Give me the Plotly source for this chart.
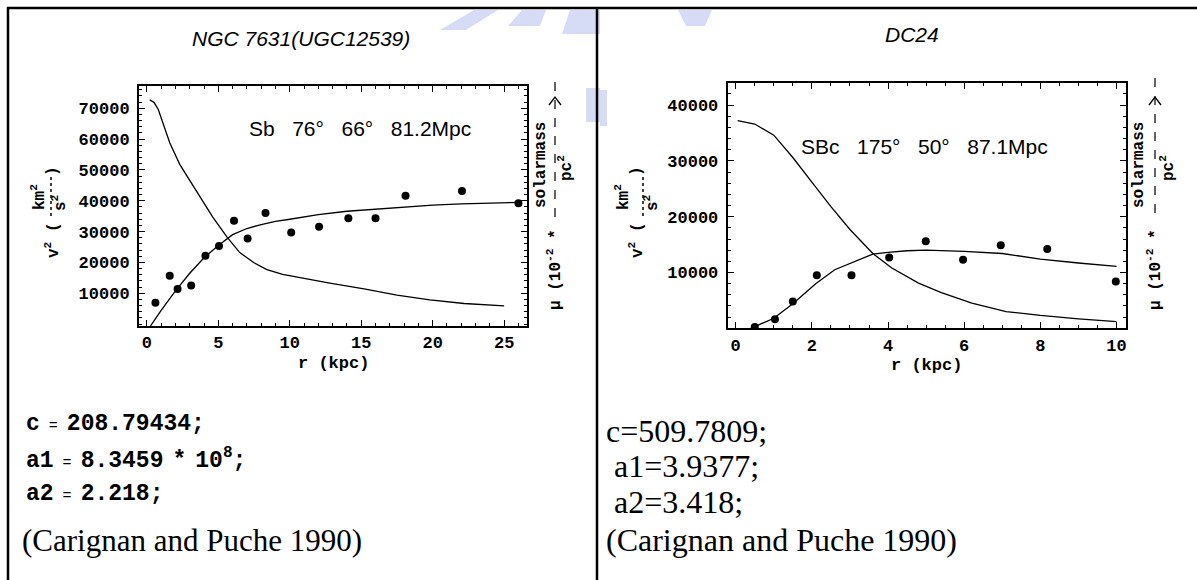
import plotly.graph_objects as go

W, H = 1197, 580

# ---------------- data : NGC 7631 (left panel) ----------------
ngc_r_obs = [0.6, 1.6, 2.15, 3.1, 4.1, 5.05, 6.1, 7.05, 8.3, 10.1, 12.05, 14.1, 16.0, 18.1, 22.05, 26.0]
ngc_v2_obs = [6900, 15700, 11400, 12500, 22200, 25300, 33500, 27800, 36000, 29700, 31600, 34300, 34300, 41600, 43200, 39200]
ngc_r_fit = [0.25, 1, 2, 3, 4, 5, 6, 7, 8, 9, 10, 12, 14, 16, 18, 20, 22, 24, 26]
ngc_v2_fit = [-600, 4500, 10800, 16500, 21500, 25500, 29000, 31000, 32300, 33300, 34000, 35500, 36600, 37300, 38000, 38600, 39000, 39300, 39500]
ngc_r_mu = [0.2, 0.5, 0.8, 1.1, 1.6, 2.3, 3.0, 3.7, 4.6, 5.6, 6.5, 7.5, 8.4, 9.5, 10.7, 12.8, 15.2, 17.5, 19.8, 22.2, 25.0]
ngc_mu = [72700, 71900, 69600, 65600, 58800, 51800, 46500, 41200, 34800, 28300, 23200, 19900, 17700, 16100, 15000, 13300, 11400, 9400, 7900, 6700, 5900]
ngc_xticks = [0, 5, 10, 15, 20, 25]
ngc_yticks = [10000, 20000, 30000, 40000, 50000, 60000, 70000]

# ---------------- data : DC24 (right panel) ----------------
dc_r_obs = [0.5, 1.03, 1.5, 2.13, 3.04, 4.03, 4.99, 5.97, 6.96, 8.18, 9.98]
dc_v2_obs = [250, 1600, 4800, 9500, 9500, 12700, 15600, 12300, 14900, 14200, 8400]
dc_r_fit = [0.4, 1.0, 1.5, 2.1, 2.6, 3.1, 3.6, 4.0, 4.5, 5.0, 6.0, 7.0, 8.0, 9.0, 10.0]
dc_v2_fit = [0, 1800, 4400, 8000, 10500, 11900, 13300, 13600, 13900, 14000, 13800, 13400, 12400, 11700, 11100]
dc_r_mu = [0.05, 0.5, 1.0, 1.5, 2.0, 2.5, 3.0, 3.6, 4.1, 4.8, 5.4, 6.2, 7.1, 8.0, 9.0, 10.0]
dc_mu = [37200, 36600, 34600, 30600, 26200, 21800, 17700, 13400, 10800, 8100, 6400, 4500, 3000, 2300, 1700, 1200]
dc_xticks = [0, 2, 4, 6, 8, 10]
dc_yticks = [10000, 20000, 30000, 40000]

MONO = "Liberation Mono"
SANS = "Liberation Sans"
SERIF = "Liberation Serif"


def px(x):
    return x / W


def py(y):
    return 1 - y / H


fig = go.Figure()

line_style = dict(color="black", width=1.3)
mark_style = dict(color="black", size=8)
fig.add_trace(go.Scatter(x=ngc_r_mu, y=ngc_mu, mode="lines", line=line_style, xaxis="x", yaxis="y", showlegend=False))
fig.add_trace(go.Scatter(x=ngc_r_fit, y=ngc_v2_fit, mode="lines", line=line_style, xaxis="x", yaxis="y", showlegend=False))
fig.add_trace(go.Scatter(x=ngc_r_obs, y=ngc_v2_obs, mode="markers", marker=mark_style, xaxis="x", yaxis="y", showlegend=False))
fig.add_trace(go.Scatter(x=dc_r_mu, y=dc_mu, mode="lines", line=line_style, xaxis="x2", yaxis="y2", showlegend=False))
fig.add_trace(go.Scatter(x=dc_r_fit, y=dc_v2_fit, mode="lines", line=line_style, xaxis="x2", yaxis="y2", showlegend=False))
fig.add_trace(go.Scatter(x=dc_r_obs, y=dc_v2_obs, mode="markers", marker=mark_style, xaxis="x2", yaxis="y2", showlegend=False))

tickfont = dict(family=MONO, size=17, color="black", weight="bold")


def axis_style(domain, rng, tickvals, minor_dtick, anchor, standoff):
    return dict(domain=domain, range=rng, anchor=anchor, tickmode="array", tickvals=tickvals,
                ticktext=[str(v) for v in tickvals], ticks="inside", ticklen=6, tickwidth=1.2,
                tickcolor="black", showline=True, linecolor="black", linewidth=2, mirror="allticks",
                showgrid=False, zeroline=False, tickfont=tickfont, ticklabelstandoff=standoff,
                minor=dict(ticks="inside", ticklen=3, tickwidth=1, tickcolor="black",
                           tickmode="linear", tick0=0, dtick=minor_dtick, showgrid=False))


fig.update_layout(
    width=W, height=H, margin=dict(l=0, r=0, t=0, b=0),
    paper_bgcolor="white", plot_bgcolor="white",
    xaxis=axis_style([139 / W, 527 / W], [-0.55, 26.6], ngc_xticks, 1, "y", 0),
    yaxis=axis_style([1 - 326 / H, 1 - 86 / H], [-600, 77200], ngc_yticks, 2000, "x", 4),
    xaxis2=axis_style([727.7 / W, 1125.7 / W], [-0.21, 10.24], dc_xticks, 0.5, "y2", 0),
    yaxis2=axis_style([1 - 328.3 / H, 1 - 83.3 / H], [0, 43900], dc_yticks, 2000, "x2", 4),
)

shapes = []
# faint watermark behind the pictures
blue = "rgba(180,192,238,0.55)"
wm = [
    [(440, 30), (474, 10), (498, 10), (466, 30)],
    [(508, 26), (522, 10), (546, 10), (540, 26)],
    [(562, 34), (570, 10), (600, 10), (600, 34)],
    [(586, 88), (600, 88), (600, 122), (586, 122)],
    [(600, 90), (607, 90), (607, 126), (600, 126)],
    [(678, 10), (712, 10), (705, 26), (686, 26)],
]
for poly in wm:
    path = "M " + " L ".join("%.5f,%.5f" % (px(a), py(b)) for a, b in poly) + " Z"
    shapes.append(dict(type="path", path=path, xref="paper", yref="paper",
                       fillcolor=blue, line=dict(width=0), layer="below"))

# table borders
for (x0, y0, x1, y1) in [(7, 8, 1197, 8), (8, 7, 8, 580), (597, 7, 597, 580)]:
    shapes.append(dict(type="line", xref="paper", yref="paper", x0=px(x0), y0=py(y0), x1=px(x1), y1=py(y1),
                       line=dict(color="black", width=2.5)))


def vline(x, y0, y1, dash="dash", w=1.2):
    shapes.append(dict(type="line", xref="paper", yref="paper", x0=px(x), y0=py(y0), x1=px(x), y1=py(y1),
                       line=dict(color="black", width=w, dash=dash)))


def arrowhead(x, y):
    shapes.append(dict(type="path", xref="paper", yref="paper",
                       path="M %.5f,%.5f L %.5f,%.5f L %.5f,%.5f" % (px(x - 6), py(y + 8), px(x), py(y), px(x + 6), py(y + 8)),
                       line=dict(color="black", width=1.3)))


# fraction bars of rotated axis labels
vline(51, 177, 217, dash="dot", w=1.5)
vline(643, 177, 217, dash="dot", w=1.5)
vline(555, 82, 222, dash="dash")
vline(1155, 78, 222, dash="dash")
arrowhead(555, 97)
arrowhead(1155, 97)

annotations = []


def ann(x, y, text, size, family, angle=0, xanchor="center", yanchor="middle", weight="normal"):
    annotations.append(dict(x=px(x), y=py(y), xref="paper", yref="paper", text=text, showarrow=False,
                            textangle=angle, xanchor=xanchor, yanchor=yanchor,
                            font=dict(family=family, size=size, color="black", weight=weight)))


# titles
ann(301, 38, "<i>NGC 7631(UGC12539)</i>", 21, SANS)
ann(912, 35, "<i>DC24</i>", 21, SANS)

# in-plot galaxy info
annotations.append(dict(x=14.9, y=63500, xref="x", yref="y", text="Sb   76°   66°   81.2Mpc", showarrow=False,
                        font=dict(family=SANS, size=21, color="black")))
annotations.append(dict(x=4.97, y=32500, xref="x2", yref="y2", text="SBc   175°   50°   87.1Mpc", showarrow=False,
                        font=dict(family=SANS, size=21, color="black")))

# x axis titles
ann(333, 363, "r (kpc)", 17, MONO, weight="bold")
ann(926, 365, "r (kpc)", 17, MONO, weight="bold")

# y label: v^2 (km^2 / s^2)
for (xm, xn, xd) in [(53, 39, 59), (637, 623, 651)]:
    ann(xm, 240, "v<sup>2</sup> (", 16, MONO, angle=-90, weight="bold")
    ann(xm, 171, ")", 16, MONO, angle=-90, weight="bold")
    ann(xn, 197, "km<sup>2</sup>", 16, MONO, angle=-90, weight="bold")
    ann(xd, 203, "s<sup>2</sup>", 16, MONO, angle=-90, weight="bold")

# right label: mu (10^-2 * solarmass / pc^2)
for (xm, xn, xd) in [(555, 541, 565), (1155, 1139, 1167)]:
    ann(xm, 270, "μ (10<sup>-2</sup> *", 16, MONO, angle=-90, weight="bold")
    ann(xn, 165, "solarmass", 16, MONO, angle=-90, weight="bold")
    ann(xd, 168, "pc<sup>2</sup>", 16, MONO, angle=-90, weight="bold")

# bottom texts left
ann(24, 424, "<b>c</b><span style='font-size:15px'> = </span><b>208.79434;</b>", 23, MONO, xanchor="left")
ann(24, 459, "<b>a1</b><span style='font-size:15px'> = </span><b>8.3459</b><span style='font-size:15px'> </span><b>*</b><span style='font-size:15px'> </span><b>10<sup>8</sup>;</b>", 23, MONO, xanchor="left")
ann(24, 494, "<b>a2</b><span style='font-size:15px'> = </span><b>2.218;</b>", 23, MONO, xanchor="left")
ann(20, 540, "(Carignan and Puche 1990)", 31, SERIF, xanchor="left")

# bottom texts right
ann(604, 431, "c=509.7809;", 32, SERIF, xanchor="left")
ann(604, 466, " a1=3.9377;", 32, SERIF, xanchor="left")
ann(604, 502, " a2=3.418;", 32, SERIF, xanchor="left")
ann(604, 540, "(Carignan and Puche 1990)", 32, SERIF, xanchor="left")

fig.update_layout(shapes=shapes, annotations=annotations)
fig.write_html("out.html")
